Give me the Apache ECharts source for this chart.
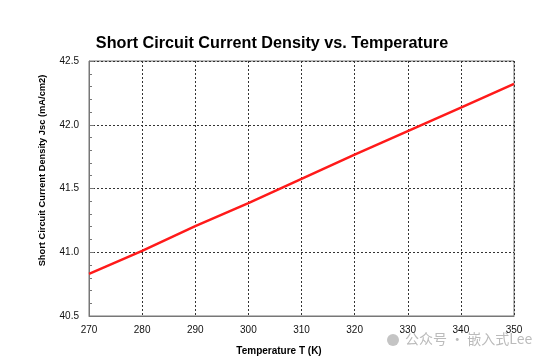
<!DOCTYPE html>
<html><head><meta charset="utf-8">
<script src="https://cdn.jsdelivr.net/npm/echarts@6/dist/echarts.min.js"></script>
<style>html,body{margin:0;padding:0;background:#fff}#c{width:554px;height:361px}</style>
</head><body><div id="c"></div>
<script>
var temperatures = [270, 280, 290, 300, 310, 320, 330, 340, 350];
var jscValues = [40.83, 41.01, 41.205, 41.385, 41.575, 41.765, 41.95, 42.135, 42.32];
var titleText = 'Short Circuit Current Density vs. Temperature';
var xName = 'Temperature T (K)';
var yName = 'Short Circuit Current Density Jsc (mA/cm2)';
var watermark = '公众号 · 嵌入式Lee';

var chart = echarts.init(document.getElementById('c'));
var data = temperatures.map(function(t, i){ return [t, jscValues[i]]; });
chart.setOption({
  animation: false,
  title: { text: titleText, left: 267, top: 31, textAlign: 'center',
    textStyle: { fontFamily: 'Liberation Sans, Arial', fontWeight: 'bold', fontSize: 16.2, color: '#000' } },
  grid: { left: 89, right: 40, top: 61, bottom: 41, show: true, borderColor: '#777', borderWidth: 1 },
  xAxis: {
    type: 'value', min: 270, max: 350, interval: 10,
    name: xName, nameLocation: 'middle', nameGap: 30,
    nameTextStyle: { fontFamily: 'Liberation Sans, Arial', fontWeight: 'bold', fontSize: 10, color: '#000', padding: [0, 45, 0, 0] },
    axisLine: { show: true, lineStyle: { color: '#777', width: 1 } },
    axisTick: { show: false },
    axisLabel: { fontFamily: 'Liberation Sans Narrow, Liberation Sans', fontSize: 10, color: '#111', margin: 9 },
    splitLine: { show: true, lineStyle: { color: '#333', type: [2, 2], width: 1 } }
  },
  yAxis: {
    type: 'value', min: 40.5, max: 42.5, interval: 0.5,
    name: yName, nameLocation: 'middle', nameGap: 42,
    nameTextStyle: { fontFamily: 'Liberation Sans, Arial', fontWeight: 'bold', fontSize: 9.3, color: '#000', padding: [0, 0, 0, 36] },
    axisLine: { show: true, lineStyle: { color: '#777', width: 1 } },
    axisTick: { show: true, inside: true, length: 5, lineStyle: { color: '#777' } },
    minorTick: { show: true, splitNumber: 5, length: 3, lineStyle: { color: '#777' } },
    axisLabel: { fontFamily: 'Liberation Sans Narrow, Liberation Sans', fontSize: 10, color: '#111', margin: 10,
      formatter: function(v){ return v.toFixed(1); } },
    splitLine: { show: true, lineStyle: { color: '#333', type: [2, 2], width: 1 } }
  },
  graphic: [
    { type: 'text', left: 405, top: 332, z: 0, style: { text: watermark, fill: '#bbb', font: '14px "Noto Sans CJK SC"' } },
    { type: 'circle', z: 0, shape: { cx: 393, cy: 340, r: 6 }, style: { fill: '#c4c4c4' } }
  ],
  series: [{
    type: 'line', data: data, showSymbol: false, symbol: 'none',
    lineStyle: { color: '#ff1a1a', width: 2.5 }
  }]
});
</script></body></html>
